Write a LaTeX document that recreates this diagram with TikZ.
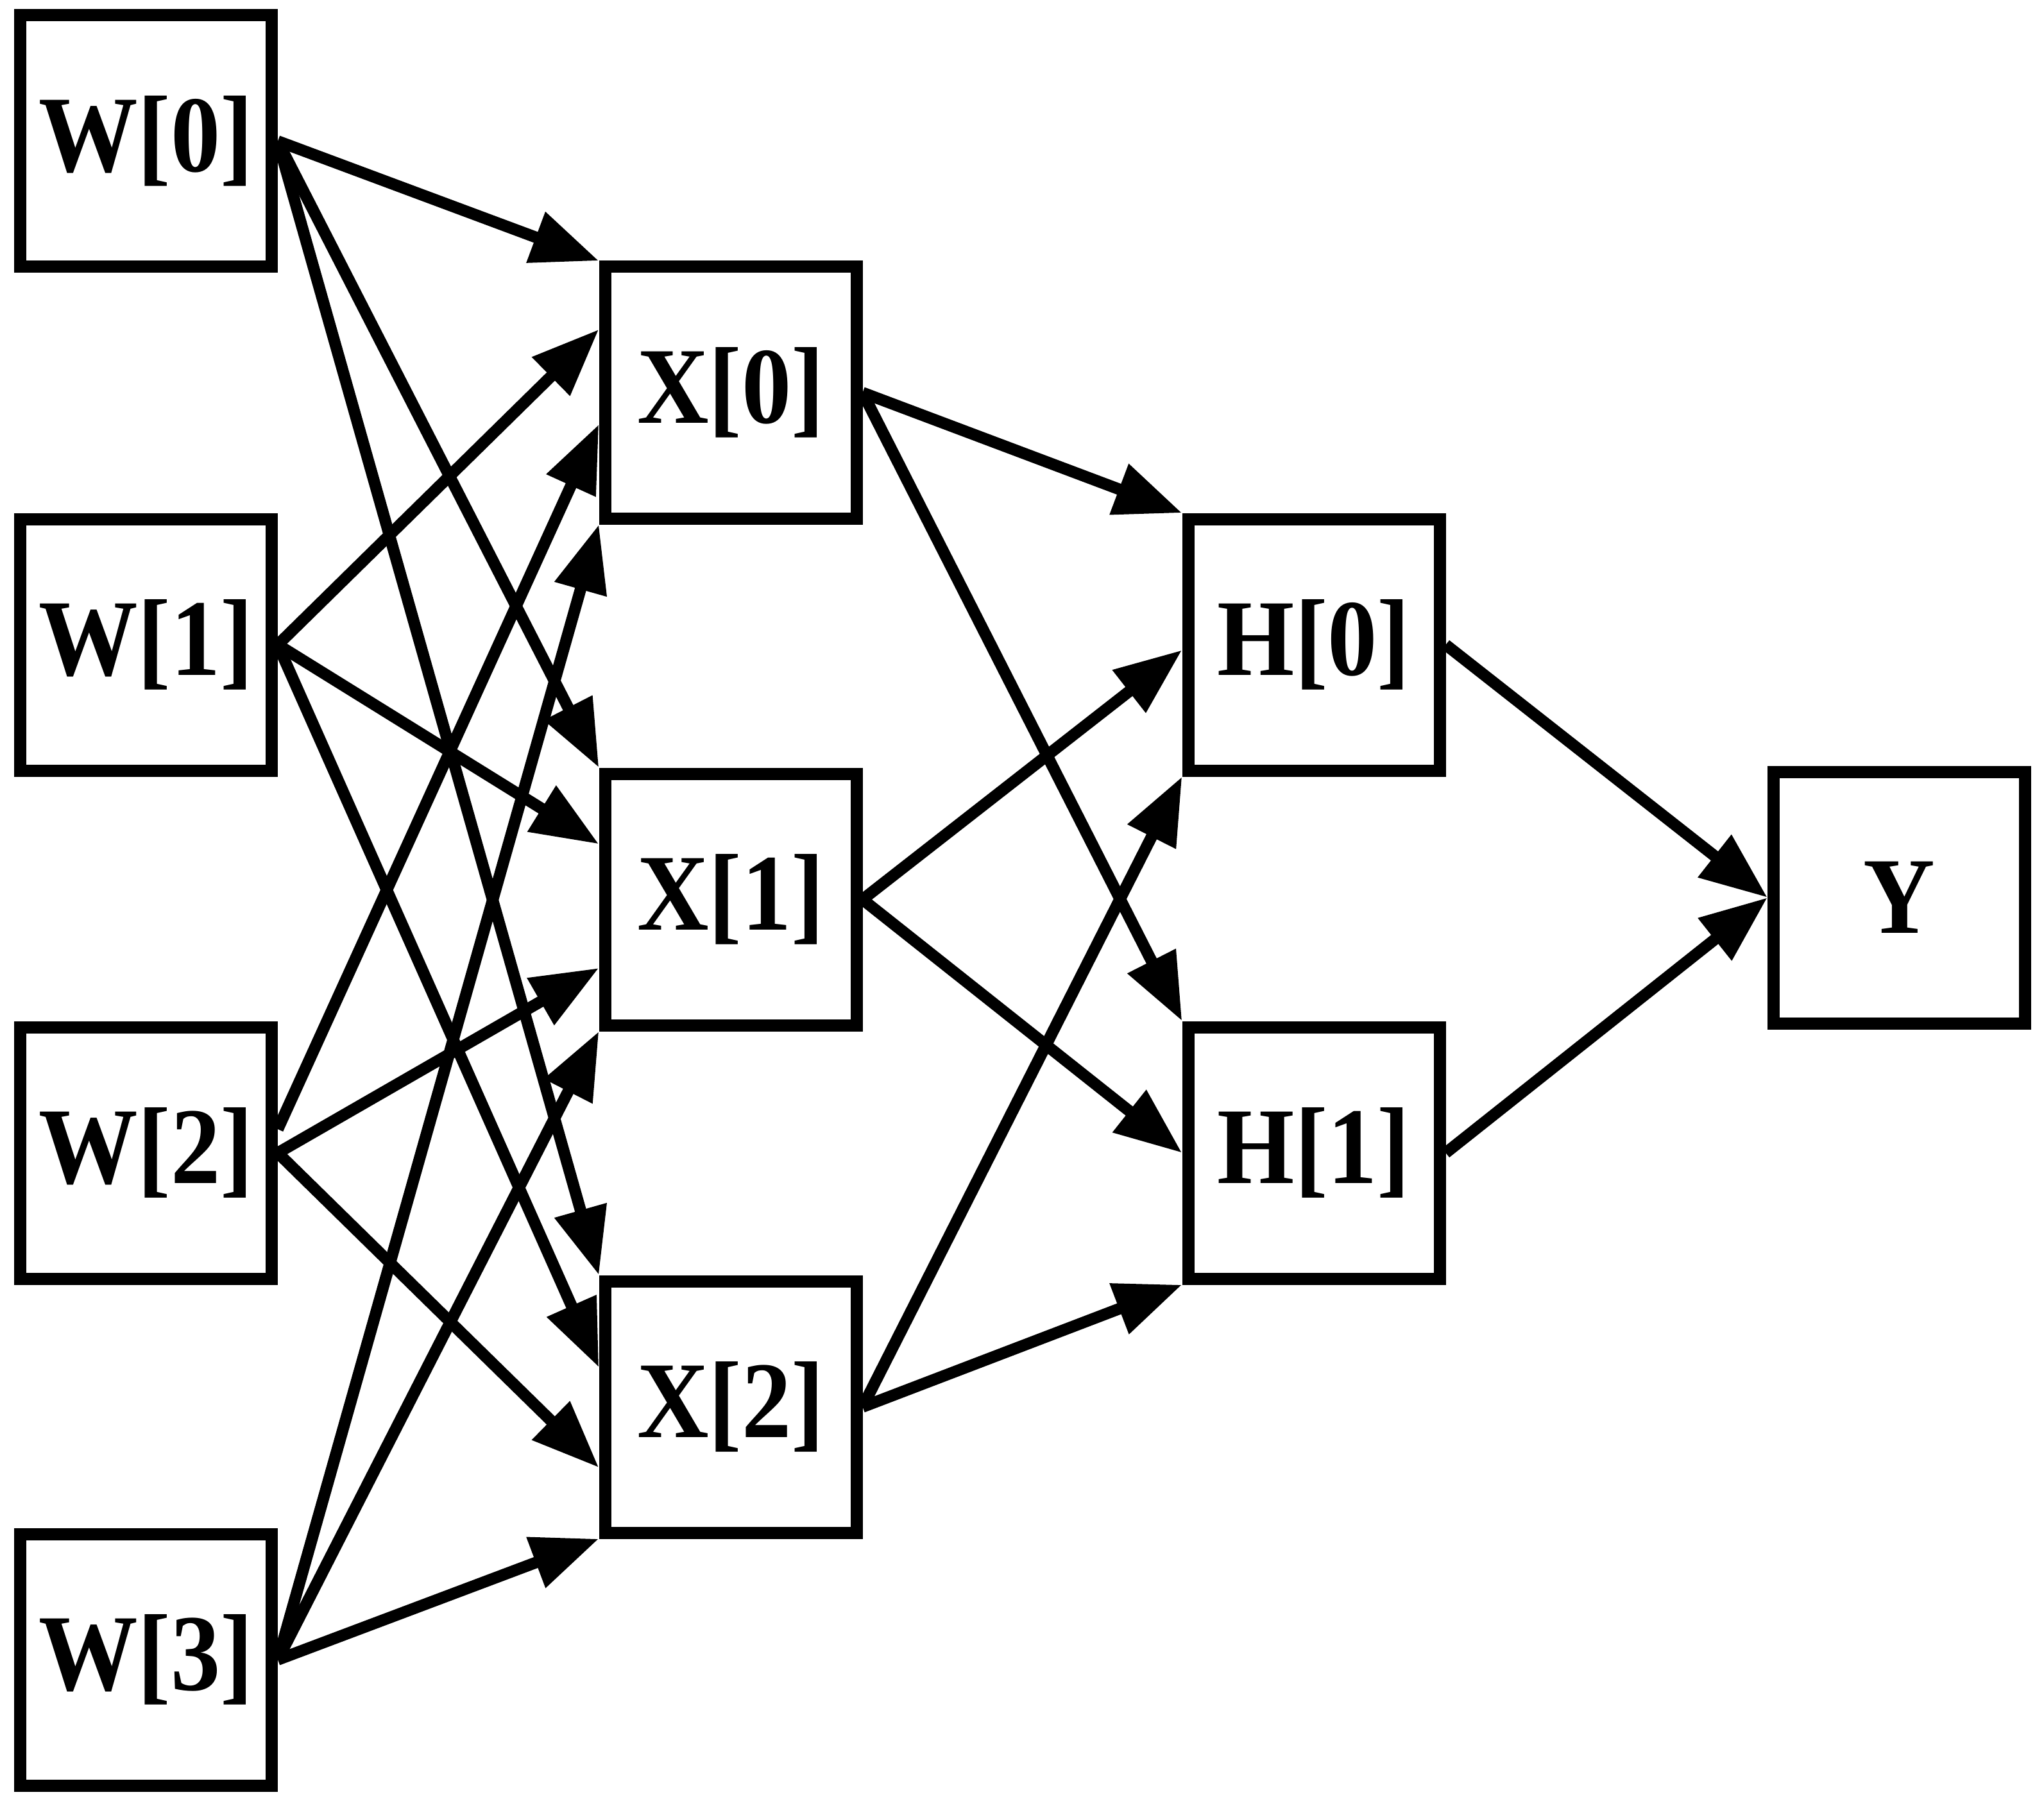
\documentclass[tikz,border=0pt]{standalone}
\usepackage{fontspec}
\setmainfont{Liberation Serif}
\usetikzlibrary{arrows.meta,calc}

\begin{document}
\begin{tikzpicture}[
    box/.style={draw, line width=0.19cm, minimum width=3.92cm, minimum height=3.92cm,
      inner sep=0pt, font=\fontsize{44}{52}\selectfont\bfseries},
    link/.style={line width=0.18cm, -{Triangle[length=1.05cm,width=0.8cm]}}
  ]
  \useasboundingbox (0,0) rectangle (31.86,-28.15);

  % input layer
  \node[box] (w0) at (2.275,-2.2) {\scalebox{1}[1.1]{W[0]}};
  \node[box] (w1) at (2.275,-10.05) {\scalebox{1}[1.1]{W[1]}};
  \node[box] (w2) at (2.275,-17.97) {\scalebox{1}[1.1]{W[2]}};
  \node[box] (w3) at (2.275,-25.87) {\scalebox{1}[1.1]{W[3]}};

  % hidden layers
  \node[box] (x0) at (11.39,-6.12) {\scalebox{1}[1.1]{X[0]}};
  \node[box] (x1) at (11.39,-14.02) {\scalebox{1}[1.1]{X[1]}};
  \node[box] (x2) at (11.39,-21.93) {\scalebox{1}[1.1]{X[2]}};
  \node[box] (h0) at (20.48,-10.05) {\scalebox{1}[1.1]{H[0]}};
  \node[box] (h1) at (20.48,-17.97) {\scalebox{1}[1.1]{H[1]}};

  % output
  \node[box] (y) at (29.605,-13.99) {\scalebox{1}[1.1]{Y}};

  % edges: leave the source's right side at \a, reach the target's left side at \f
  \foreach \s/\a/\t/\f in {w0/.5/x0/0, w1/.5/x0/0.26, w2/.41/x0/0.62, w3/.5/x0/1,
                           w0/.5/x1/0, w1/.5/x1/0.29, w2/.5/x1/0.76, w3/.5/x1/1,
                           w0/.5/x2/0, w1/.5/x2/0.35, w2/.5/x2/0.73, w3/.5/x2/1,
                           x0/.5/h0/0, x1/.5/h0/0.52, x2/.5/h0/1,
                           x0/.5/h1/0, x1/.5/h1/0.5, x2/.5/h1/1,
                           h0/.5/y/.5, h1/.5/y/.5}
    \draw[link] ($(\s.north east)!\a!(\s.south east)$) -- ($(\t.north west)!\f!(\t.south west)$);
\end{tikzpicture}
\end{document}
